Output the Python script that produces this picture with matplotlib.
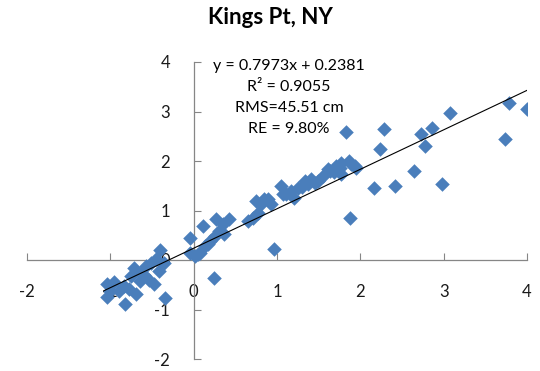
import numpy as np
import matplotlib
matplotlib.use("Agg")
import matplotlib.pyplot as plt

# data
xs = np.array([
    -1.04, -1.04, -0.96, -0.90, -1.00, -0.82, -0.84, -0.75, -0.69, -0.72,
    -0.63, -0.54, -0.48, -0.51, -0.45, -0.40, -0.36, -0.34, -0.42, -0.57,
    -0.65, -0.78, -0.60,
    -0.04, 0.11, -0.04, 0.02, 0.08, 0.14, 0.20, 0.27, 0.30, 0.36,
    0.42, 0.35, 0.24, 0.05, 0.17, 0.25,
    0.65, 0.71, 0.77, 0.81, 0.89, 0.93, 0.96, 1.05, 1.07, 0.75,
    0.84, 1.11, 1.17, 1.25, 1.33, 1.41, 1.49, 1.61, 1.71, 1.77,
    1.86, 1.93, 1.77, 1.20, 1.37, 1.45, 1.30, 1.63, 1.75, 1.89,
    1.95, 1.55, 1.68,
    1.83, 2.28, 2.23, 2.16, 2.41, 2.64, 2.73, 2.77, 2.86, 3.07,
    2.98, 1.87, 3.73, 3.78, 4.00,
])
ys = np.array([
    -0.48, -0.75, -0.44, -0.63, -0.63, -0.89, -0.53, -0.32, -0.69, -0.16,
    -0.26, -0.40, -0.48, -0.06, 0.02, 0.20, -0.06, -0.77, -0.22, -0.12,
    -0.42, -0.58, -0.30,
    0.44, 0.69, 0.14, 0.08, 0.14, 0.28, 0.38, 0.83, 0.59, 0.53,
    0.83, 0.73, -0.36, 0.12, 0.33, 0.48,
    0.79, 0.85, 0.95, 1.13, 1.23, 1.13, 0.22, 1.49, 1.33, 1.19,
    1.23, 1.33, 1.39, 1.45, 1.60, 1.64, 1.60, 1.84, 1.90, 1.96,
    2.00, 1.90, 1.74, 1.25, 1.53, 1.55, 1.48, 1.80, 1.85, 1.94,
    1.86, 1.70, 1.78,
    2.59, 2.65, 2.24, 1.45, 1.49, 1.80, 2.55, 2.30, 2.67, 2.97,
    1.53, 0.85, 2.44, 3.17, 3.05,
])
slope = 0.7973
intercept = 0.2381
stats = ["y = 0.7973x + 0.2381", "R² = 0.9055", "RMS=45.51 cm", "RE = 9.80%"]
ticks = [-2, -1, 0, 1, 2, 3, 4]

plt.rcParams['font.family'] = ['Lato', 'DejaVu Sans']
plt.rcParams['axes.unicode_minus'] = False

fig = plt.figure(figsize=(5.4, 3.71), dpi=100)
ax = fig.add_axes([27/540, 1 - 359/371, (527 - 27)/540, (359 - 62)/371])

ax.scatter(xs, ys, marker='D', s=55, color='#4a7ebb', linewidths=0, zorder=3)
lx = np.array([xs.min() - 0.04, xs.max()])
ax.plot(lx, slope*lx + intercept, color='black', lw=0.8, zorder=4)

ax.set_xlim(-2, 4)
ax.set_ylim(-2, 4)
ax.set_xticks(ticks)
ax.set_yticks(ticks)

for s in ['top', 'right']:
    ax.spines[s].set_visible(False)
for s in ['left', 'bottom']:
    ax.spines[s].set_position(('data', 0))
    ax.spines[s].set_color('#868686')
    ax.spines[s].set_linewidth(0.9)

ax.tick_params(axis='x', direction='in', length=5, color='#868686', pad=17,
               labelsize=12, labelcolor='#1a1a1a')
ax.tick_params(axis='y', direction='in', length=5, color='#868686', pad=17,
               labelsize=12, labelcolor='#1a1a1a')

fig.text(0.5, 1 - 18/371, "Kings Pt, NY", ha='center', va='center',
         fontsize=16, fontweight='bold')

for i, line in enumerate(stats):
    fig.text(289/540, 1 - (66 + 21*i)/371, line, ha='center', va='center',
             fontsize=11.5)

fig.savefig("out.png", dpi=100)
